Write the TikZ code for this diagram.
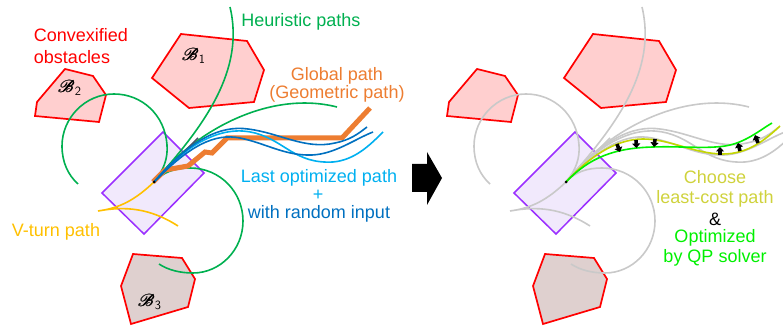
\documentclass[tikz,border=0pt]{standalone}
\usepackage{amsmath}
\usepackage{fontspec}
\usepackage{mathrsfs}
\setmainfont{Liberation Sans}
\usetikzlibrary{arrows.meta,positioning}
\definecolor{obred}{HTML}{FF0000}
\definecolor{obfill}{HTML}{FFCFCF}
\definecolor{obfilldark}{HTML}{DFD0CF}
\definecolor{egofill}{HTML}{F1E9FC}
\definecolor{egoline}{HTML}{9B30FF}
\definecolor{heurgreen}{HTML}{00B050}
\definecolor{vturn}{HTML}{FFC000}
\definecolor{globalor}{HTML}{ED7D31}
\definecolor{lastblue}{HTML}{00B0F0}
\definecolor{randblue}{HTML}{0070C0}
\definecolor{slate}{HTML}{44546A}
\definecolor{faded}{HTML}{C9C9C9}
\definecolor{leastcost}{HTML}{C4D600}
\definecolor{leastlabel}{HTML}{CFD23C}
\definecolor{qpgreen}{HTML}{00F000}
\tikzset{
	obstacle/.style={draw=obred,fill=obfill,line width=1.7pt,line join=miter},
	ego/.style={draw=egoline,fill=egofill,line width=1.5pt},
	path/.style={line width=1.6pt},
	lbl/.style={align=center,inner sep=0pt,font=\fontsize{18}{20}\selectfont},
	obname/.style={inner sep=0pt,font=\fontsize{18}{20}\selectfont},
	nudge/.style={-{Triangle[length=4.5pt,width=8pt]},line width=3.6pt,black}
}
\newcommand{\obstacles}{
	\draw[obstacle] (181,34) -- (247,41) -- (264,70) -- (254,102) -- (189,108) -- (152,78) -- cycle;
	\draw[obstacle] (65,69) -- (93,76) -- (106,95) -- (99,122) -- (35,116) -- (37,102) -- cycle;
	\draw[obstacle,fill=obfilldark] (133,254) -- (182,258) -- (195,279) -- (188,307) -- (131,324) -- (121,286) -- cycle;
	\draw[ego] (163,132) -- (204,173) -- (144,234) -- (102,193) -- cycle;
}
\newcommand{\heuristics}[1]{
	\draw[path,#1] (154,182) .. controls (205,125) and (245,70) .. (230,7);
	\draw[path,#1] (154,182) .. controls (164,170) and (168,158) .. (167,145) .. controls (165,115) and (142,94) .. (114,94) .. controls (85,94) and (62,118) .. (62,146) .. controls (62,162) and (68,175) .. (78,184);
	\draw[path,#1] (154,182) .. controls (163,172) and (175,168) .. (190,168) .. controls (220,168) and (243,192) .. (243,221) .. controls (243,250) and (220,273) .. (193,273) .. controls (180,273) and (168,270) .. (159,264);
	\draw[path,#1] (154,182) .. controls (195,130) and (270,90) .. (337,107);
}
\newcommand{\vturns}[1]{
	\draw[path,#1] (154,182) .. controls (135,200) and (120,208) .. (98,211) .. controls (125,206) and (150,208) .. (178,226);
}
\newcommand{\lastpaths}[3]{
	\draw[path,#1] (154,182) -- (198,138);
	\draw[path,#2] (154,182) .. controls (190,140) and (225,125) .. (255,133) .. controls (285,141) and (295,164) .. (333,162) .. controls (355,160) and (370,145) .. (383,132);
	\draw[path,#3] (154,182) .. controls (190,140) and (220,125) .. (248,129) .. controls (280,133) and (305,150) .. (335,143) .. controls (350,140) and (358,134) .. (367,127);
	\draw[path,#3] (154,182) .. controls (190,145) and (215,133) .. (240,138) .. controls (265,143) and (285,156) .. (312,155) .. controls (335,154) and (355,139) .. (373,132);
}
\begin{document}
\begin{tikzpicture}[x=1pt,y=-1pt]
	\useasboundingbox (0,0) rectangle (783,328);

	% left panel
	\obstacles
	\heuristics{heurgreen}
	\vturns{vturn}
	\draw[globalor,line width=5pt,line join=miter] (153,182) -- (165,170) -- (188,166) -- (205,152) -- (212,153) -- (227,138) -- (342,138) -- (370,108);
	\lastpaths{slate}{lastblue}{randblue}
	\fill (154,182) circle (1.5);

	\node[obname] (b1) at (194,56) {$\pmb{\mathscr{B}}_{\textsf{1}}$};
	\node[obname] (b2) at (70,88) {$\pmb{\mathscr{B}}_{\textsf{2}}$};
	\node[obname] (b3) at (150,302) {$\pmb{\mathscr{B}}_{\textsf{3}}$};
	\node[lbl,text=obred,align=left] (obs) at (81,46) {Convexified\\[2pt]obstacles};
	\node[lbl,text=heurgreen] (heur) at (301,22) {Heuristic paths};
	\node[lbl,text=globalor] (glob) at (337,85) {Global path\\[-2.5pt](Geometric path)};
	\node[lbl,text=lastblue] (last) at (319,178) {Last optimized path};
	\node[lbl,text=lastblue] (plus) at (318,195) {+};
	\node[lbl,text=randblue] (rand) at (319,214) {with random input};
	\node[lbl,text=vturn] (vt) at (56,232) {V-turn path};

	% block arrow
	\fill (412,164) -- (427,164) -- (427,152) -- (442,178) -- (427,205) -- (427,192) -- (412,192) -- cycle;

	% right panel
	\begin{scope}[xshift=412pt]
		\obstacles
		\heuristics{faded}
		\vturns{faded}
		\lastpaths{faded}{faded}{faded}
	\end{scope}
	\draw[path,leastcost] (566,182) .. controls (588,158) and (615,139) .. (643,139) .. controls (670,139) and (695,154) .. (723,154) .. controls (748,154) and (765,140) .. (780,126);
	\draw[path,qpgreen] (566,182) .. controls (590,157) and (615,148) .. (653,147) .. controls (680,146) and (705,149) .. (725,146) .. controls (745,143) and (760,130) .. (772,123);
	\fill (566,182) circle (1.5);
	\draw[nudge] (617,144) -- (620,152);
	\draw[nudge] (636,140) -- (636.5,148);
	\draw[nudge] (655,139) -- (654,147);
	\draw[nudge] (720,155) -- (720,147);
	\draw[nudge] (740,151) -- (738,143);
	\draw[nudge] (758,143) -- (755,135);

	\node[lbl,text=leastlabel] (choose) at (715,189) {Choose\\least-cost path};
	\node[lbl] (amp) at (715,219) {\&};
	\node[lbl,text=qpgreen] (qp) at (715,248) {Optimized\\by QP solver};
\end{tikzpicture}
\end{document}
